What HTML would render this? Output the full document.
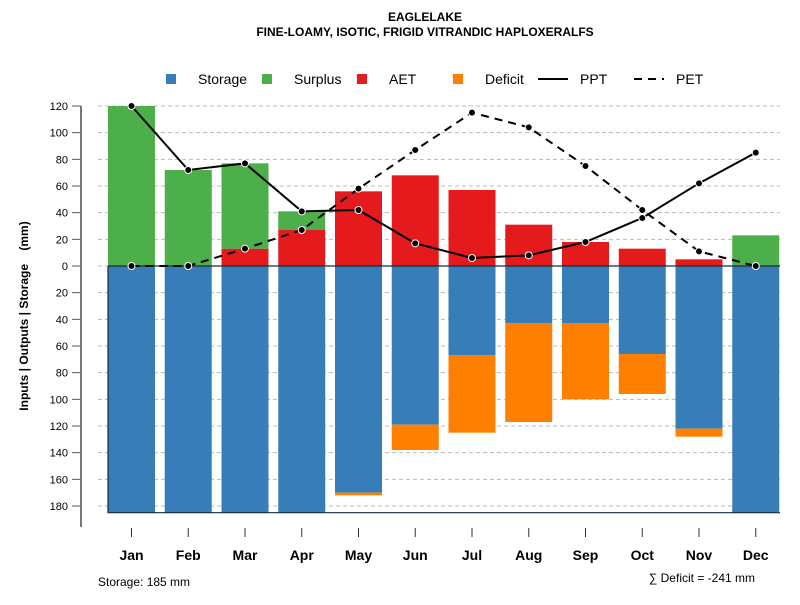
<!DOCTYPE html>
<html><head><meta charset="utf-8"><style>
body{margin:0;background:#fff}
svg{font-family:"Liberation Sans",sans-serif}
</style></head><body>
<svg id="c" width="800" height="600" xmlns="http://www.w3.org/2000/svg">
<text x="425" y="21" text-anchor="middle" font-size="12" font-weight="bold">EAGLELAKE</text>
<text x="425" y="36" text-anchor="middle" font-size="12" font-weight="bold">FINE-LOAMY, ISOTIC, FRIGID VITRANDIC HAPLOXERALFS</text>
<g font-size="14">
<g><rect x="166" y="74" width="10" height="10" fill="#377eb8"/><text x="198" y="84">Storage</text></g>
<g><rect x="262" y="74" width="10" height="10" fill="#4daf4a"/><text x="294" y="84">Surplus</text></g>
<g><rect x="357" y="74" width="10" height="10" fill="#e41a1c"/><text x="389" y="84">AET</text></g>
<g><rect x="453" y="74" width="10" height="10" fill="#ff7f00"/><text x="485" y="84">Deficit</text></g>
<g><line x1="538" y1="79" x2="568" y2="79" stroke="#000" stroke-width="2"/><text x="580" y="84">PPT</text></g>
<g><line x1="634" y1="79" x2="664" y2="79" stroke="#000" stroke-width="2" stroke-dasharray="8,6"/><text x="676" y="84">PET</text></g>
</g>
<text transform="translate(28,316) rotate(-90)" text-anchor="middle" font-size="12" font-weight="bold">Inputs | Outputs | Storage&#160;&#160;&#160;&#160;(mm)</text>
<g id="grid"></g><g id="bars"></g><g id="lines"></g><g id="axes"></g>
<text x="98" y="586" font-size="12">Storage: 185 mm</text>
<text x="755" y="582" text-anchor="end" font-size="12">∑ Deficit = -241 mm</text>
</svg>
<script>
const months=["Jan","Feb","Mar","Apr","May","Jun","Jul","Aug","Sep","Oct","Nov","Dec"];
const storage=[185,185,185,185,170,119,67,43,43,66,122,185];
const deficit=[0,0,0,0,2,19,58,74,57,30,6,0];
const aet=[0,0,13,27,56,68,57,31,18,13,5,0];
const surplus=[120,72,64,14,0,0,0,0,0,0,0,23];
const ppt=[120,72,77,41,42,17,6,8,18,36,62,85];
const pet=[0,0,13,27,58,87,115,104,75,42,11,0];
const yTicks=[120,100,80,60,40,20,0,20,40,60,80,100,120,140,160,180];
const NS="http://www.w3.org/2000/svg";
function y(v){return 266-v*160/120;}
function x(i){return 131.5+i*56.75;}
const BW=47;
function mk(t,a,p){const e=document.createElementNS(NS,t);for(const k in a)e.setAttribute(k,a[k]);document.getElementById(p).appendChild(e);return e;}
yTicks.forEach((t,i)=>{const v=i<=6?t:-t;
 const g=mk("line",{x1:98,x2:780,y1:y(v),y2:y(v),stroke:"#bbb","stroke-dasharray":"4,3"},"grid");
 
 
 const tk=mk("line",{x1:72,x2:81,y1:y(v),y2:y(v),stroke:"#555"},"axes");
 
 
 const tl=mk("text",{x:68,y:y(v)+4,"text-anchor":"end","font-size":"11"},"axes");tl.textContent=t;
 
 
});
const ya=mk("line",{x1:81,x2:81,y1:106,y2:527,stroke:"#777","stroke-width":2},"axes");


months.forEach((m,i)=>{const cx=x(i),l=cx-BW/2;
 let r;
 r=mk("rect",{x:l,y:y(0),width:BW,height:y(-storage[i])-y(0),fill:"#377eb8"},"bars");
 
 
 if(deficit[i]>0){r=mk("rect",{x:l,y:y(-storage[i]),width:BW,height:y(-storage[i]-deficit[i])-y(-storage[i]),fill:"#ff7f00"},"bars");
 
 }
 if(aet[i]>0){r=mk("rect",{x:l,y:y(aet[i]),width:BW,height:y(0)-y(aet[i]),fill:"#e41a1c"},"bars");
 
 }
 if(surplus[i]>0){r=mk("rect",{x:l,y:y(aet[i]+surplus[i]),width:BW,height:y(aet[i])-y(aet[i]+surplus[i]),fill:"#4daf4a"},"bars");
 
 }
 const tk=mk("line",{x1:cx,x2:cx,y1:528,y2:537,stroke:"#333"},"axes");
 
 
 const tl=mk("text",{x:cx,y:560,"text-anchor":"middle","font-size":"14","font-weight":"bold"},"axes");tl.textContent=m;
 
 
});
let z=mk("path",{d:`M108,${y(0)}H780M108,${y(0)}V${y(-185)}H780`,stroke:"#1a2a3a","stroke-width":1.2,fill:"none"},"bars");


function series(vals,name,dash){
 const p=mk("polyline",{points:vals.map((v,i)=>x(i)+","+y(v)).join(" "),fill:"none",stroke:"#000","stroke-width":2,"stroke-dasharray":dash},"lines");
 
 
 vals.forEach((v,i)=>{const c=mk("circle",{cx:x(i),cy:y(v),r:3.5,fill:"#000",stroke:"#fff","stroke-width":1},"lines");
 
 });
}
series(ppt,"ppt","none");
series(pet,"pet","8,6");
</script>
</body></html>
